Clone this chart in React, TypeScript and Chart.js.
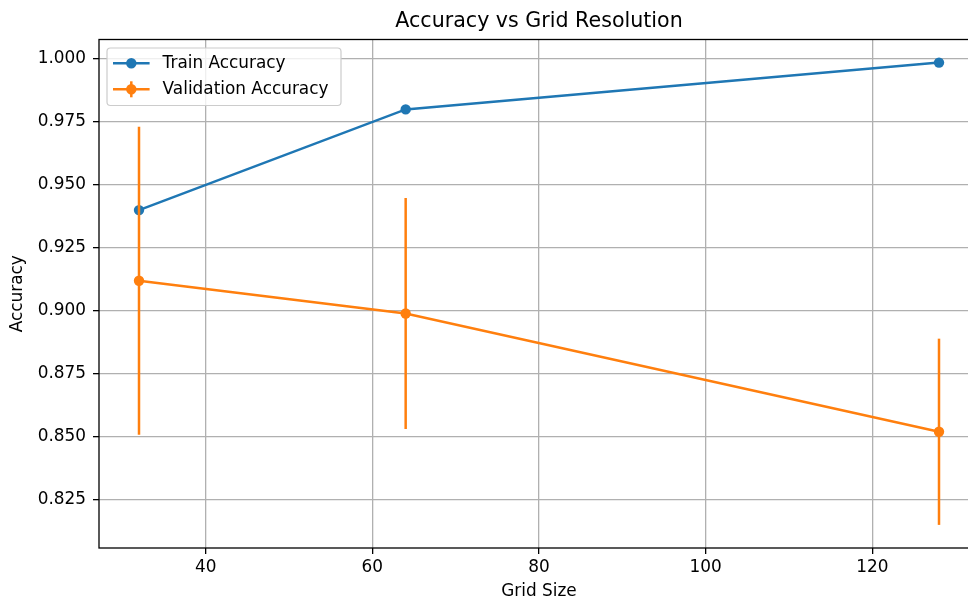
import React, { useEffect, useRef } from 'react';
import { Chart, registerables } from 'chart.js';

Chart.register(...registerables);

const gridSizes = [32, 64, 128];
const trainAcc = [0.94, 0.98, 0.9986];
const valAcc = [0.9119, 0.8989, 0.8519];
const valErr = [0.0612, 0.0459, 0.037];
const xTicks = [40, 60, 80, 100, 120];
const yTicks = [0.825, 0.85, 0.875, 0.9, 0.925, 0.95, 0.975, 1.0];
const seriesNames = ['Train Accuracy', 'Validation Accuracy'];
const titleText = 'Accuracy vs Grid Resolution';
const xLabel = 'Grid Size';
const yLabel = 'Accuracy';

const BLUE = '#1f77b4';
const ORANGE = '#ff7f0e';
const FONT = "'DejaVu Sans', sans-serif";
const FS = 16.9;

function limits(lo: number, hi: number) {
  const r = hi - lo;
  return [lo - 0.05 * r, hi + 0.05 * r];
}

const overlayPlugin = {
  id: 'overlay',
  afterDatasetsDraw(chart: any) {
    const { ctx, chartArea: ca, scales } = chart;
    const xs = scales.x;
    const ys = scales.y;
    ctx.save();
    // error bars
    ctx.strokeStyle = ORANGE;
    ctx.lineWidth = 2.5;
    gridSizes.forEach((g, i) => {
      const px = xs.getPixelForValue(g);
      const top = ys.getPixelForValue(valAcc[i] + valErr[i]);
      const bot = ys.getPixelForValue(valAcc[i] - valErr[i]);
      ctx.beginPath();
      ctx.moveTo(px, top);
      ctx.lineTo(px, bot);
      ctx.stroke();
    });
    // spines
    ctx.strokeStyle = '#000';
    ctx.lineWidth = 1.3;
    ctx.strokeRect(ca.left, ca.top, ca.right - ca.left, ca.bottom - ca.top);
    // legend
    const x0 = ca.left + 8;
    const y0 = ca.top + 8.5;
    const w = 234;
    const h = 57.5;
    const r = 3.5;
    ctx.beginPath();
    ctx.moveTo(x0 + r, y0);
    ctx.lineTo(x0 + w - r, y0);
    ctx.arcTo(x0 + w, y0, x0 + w, y0 + r, r);
    ctx.lineTo(x0 + w, y0 + h - r);
    ctx.arcTo(x0 + w, y0 + h, x0 + w - r, y0 + h, r);
    ctx.lineTo(x0 + r, y0 + h);
    ctx.arcTo(x0, y0 + h, x0, y0 + h - r, r);
    ctx.lineTo(x0, y0 + r);
    ctx.arcTo(x0, y0, x0 + r, y0, r);
    ctx.closePath();
    ctx.fillStyle = 'rgba(255,255,255,0.8)';
    ctx.fill();
    ctx.strokeStyle = '#cccccc';
    ctx.lineWidth = 1.2;
    ctx.stroke();
    const colors = [BLUE, ORANGE];
    const rows = [ca.top + 23.8, ca.top + 49.8];
    seriesNames.forEach((name, i) => {
      const y = rows[i];
      const lx0 = ca.left + 14;
      const lx1 = ca.left + 50.6;
      const mx = ca.left + 32.3;
      ctx.strokeStyle = colors[i];
      ctx.lineWidth = 2.5;
      ctx.beginPath();
      ctx.moveTo(lx0, y);
      ctx.lineTo(lx1, y);
      ctx.stroke();
      if (i === 1) {
        ctx.beginPath();
        ctx.moveTo(mx, y - 8);
        ctx.lineTo(mx, y + 8);
        ctx.stroke();
      }
      ctx.fillStyle = colors[i];
      ctx.beginPath();
      ctx.arc(mx, y, 5.2, 0, Math.PI * 2);
      ctx.fill();
      ctx.fillStyle = '#000';
      ctx.font = `${FS}px ${FONT}`;
      ctx.textBaseline = 'middle';
      ctx.textAlign = 'left';
      ctx.fillText(name, ca.left + 63.6, y);
    });
    ctx.restore();
  },
};

export default function App() {
  const ref = useRef<HTMLCanvasElement | null>(null);
  useEffect(() => {
    if (!ref.current) return;
    const [xMin, xMax] = limits(Math.min(...gridSizes), Math.max(...gridSizes));
    const lows = valAcc.map((v, i) => v - valErr[i]);
    const highs = valAcc.map((v, i) => v + valErr[i]);
    const [yMin, yMax] = limits(
      Math.min(...trainAcc, ...lows),
      Math.max(...trainAcc, ...highs)
    );
    const chart = new Chart(ref.current, {
      type: 'line',
      data: {
        datasets: [
          {
            label: seriesNames[0],
            data: gridSizes.map((x, i) => ({ x, y: trainAcc[i] })),
            borderColor: BLUE,
            backgroundColor: BLUE,
            borderWidth: 2.5,
            pointRadius: 5.2,
            pointBorderWidth: 0,
            pointBackgroundColor: BLUE,
            tension: 0,
          },
          {
            label: seriesNames[1],
            data: gridSizes.map((x, i) => ({ x, y: valAcc[i] })),
            borderColor: ORANGE,
            backgroundColor: ORANGE,
            borderWidth: 2.5,
            pointRadius: 5.2,
            pointBorderWidth: 0,
            pointBackgroundColor: ORANGE,
            tension: 0,
          },
        ],
      },
      options: {
        responsive: false,
        animation: false,
        layout: { padding: 0, autoPadding: false },
        plugins: {
          legend: { display: false },
          tooltip: { enabled: false },
          title: {
            display: true,
            text: titleText,
            color: '#000',
            fullSize: false,
            font: { size: 20.6, family: FONT, weight: 'normal', lineHeight: 1 },
            padding: { top: 11.5, bottom: 7.4 },
          },
        },
        scales: {
          x: {
            type: 'linear',
            min: xMin,
            max: xMax,
            afterBuildTicks: (s: any) => {
              s.ticks = xTicks.map((v) => ({ value: v }));
            },
            afterFit: (s: any) => {
              s.height = 50;
            },
            ticks: {
              autoSkip: false,
              maxRotation: 0,
              color: '#000',
              padding: 3,
              font: { size: FS, family: FONT, lineHeight: 1.2 },
              callback: (v: any) => String(v),
            },
            grid: {
              color: '#b0b0b0',
              lineWidth: 1.3,
              tickLength: 6,
              tickColor: '#000',
              tickWidth: 1.3,
            },
            border: { display: false },
            title: {
              display: true,
              text: xLabel,
              color: '#000',
              font: { size: FS, family: FONT, lineHeight: 1 },
              padding: { top: 0, bottom: -2 },
            },
          },
          y: {
            type: 'linear',
            min: yMin,
            max: yMax,
            afterBuildTicks: (s: any) => {
              s.ticks = yTicks.map((v) => ({ value: v }));
            },
            afterFit: (s: any) => {
              s.width = 99;
            },
            ticks: {
              autoSkip: false,
              color: '#000',
              padding: 7,
              font: { size: FS, family: FONT, lineHeight: 1.2 },
              callback: (v: any) => Number(v).toFixed(3),
            },
            grid: {
              color: '#b0b0b0',
              lineWidth: 1.3,
              tickLength: 6,
              tickColor: '#000',
              tickWidth: 1.3,
            },
            border: { display: false },
            title: {
              display: true,
              text: yLabel,
              color: '#000',
              font: { size: FS, family: FONT, lineHeight: 1 },
              padding: { top: 9, bottom: 0 },
            },
          },
        },
      },
      plugins: [overlayPlugin],
    } as any);
    return () => chart.destroy();
  }, []);
  return (
    <div
      style={{
        position: 'absolute',
        left: 0,
        top: 0,
        width: 968,
        height: 598,
        overflow: 'hidden',
        background: '#fff',
      }}
    >
      <div style={{ width: 979, height: 598 }}>
        <canvas
          ref={ref}
          width={979}
          height={598}
          style={{ display: 'block', width: 979, height: 598 }}
        />
      </div>
    </div>
  );
}
